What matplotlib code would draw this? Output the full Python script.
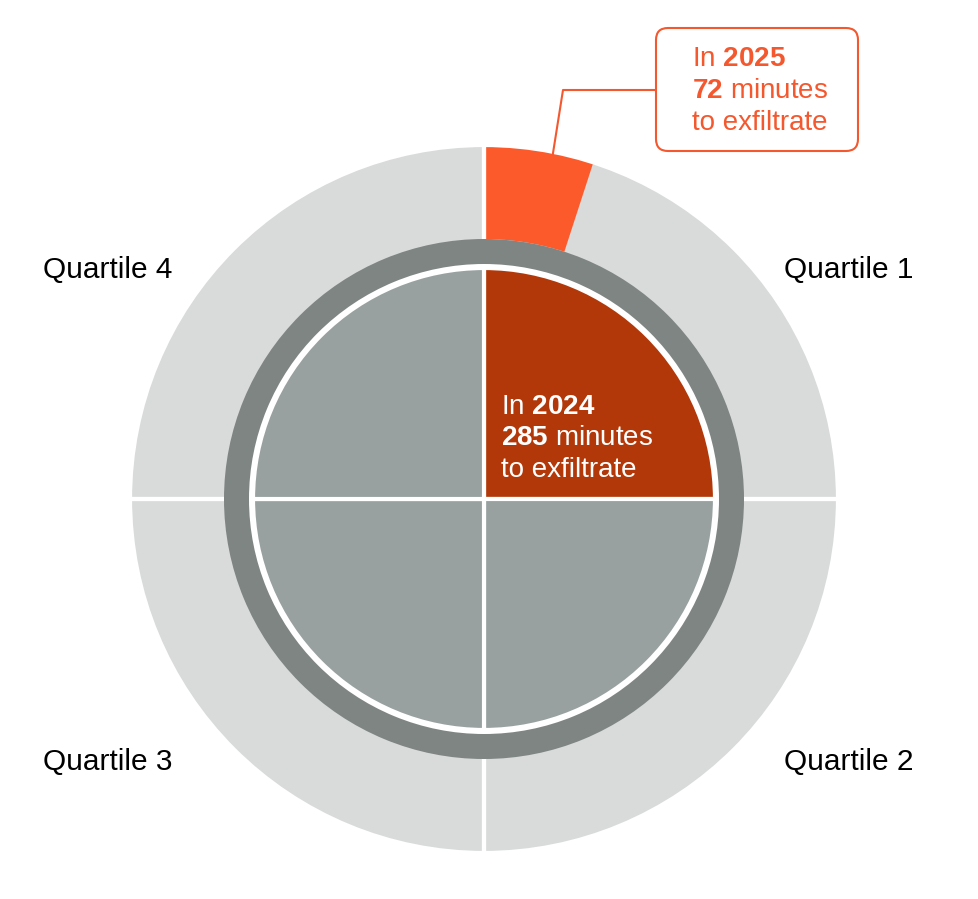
import matplotlib.pyplot as plt
from matplotlib.patches import FancyBboxPatch
import numpy as np

plt.rcParams['font.family'] = ['Liberation Sans', 'DejaVu Sans']
plt.rcParams['mathtext.fontset'] = 'custom'
plt.rcParams['mathtext.rm'] = 'Liberation Sans'
plt.rcParams['mathtext.bf'] = 'Liberation Sans:bold'

# data
quartiles = ["Quartile 1", "Quartile 2", "Quartile 3", "Quartile 4"]
minutes_per_day = 1440
quartile_minutes = [360, 360, 360, 360]
minutes_2024 = 285
minutes_2025 = 72
highlight_2024 = [1, 0, 0, 0]

# colours
light = "#d9dbda"
dark_ring = "#7e8583"
inner_gray = "#98a0a0"
rust = "#b2380a"
orange = "#fd5a2c"
text_orange = "#f4582e"

R_OUT, R_RING, R_RING_IN, R_PIE = 353, 260, 235, 230

fig = plt.figure(figsize=(9.79, 8.99), dpi=100)
ax = fig.add_axes([0, 0, 1, 1])

# outer light ring
ax.pie(quartile_minutes, radius=R_OUT, startangle=90, counterclock=False,
       colors=[light] * 4, wedgeprops=dict(width=R_OUT - R_RING_IN, linewidth=0))
# 2025 wedge
ax.pie([minutes_2025, minutes_per_day - minutes_2025], radius=R_OUT, startangle=90,
       counterclock=False, colors=[orange, 'none'],
       wedgeprops=dict(width=R_OUT - R_RING, linewidth=0))
# white quartile separators on the outer ring
ax.pie(quartile_minutes, radius=R_OUT + 1, startangle=90, counterclock=False,
       colors=['none'] * 4,
       wedgeprops=dict(width=R_OUT + 1 - R_RING_IN, linewidth=3, edgecolor='white'))
# dark ring
ax.pie([1], radius=R_RING, colors=[dark_ring],
       wedgeprops=dict(width=R_RING - R_RING_IN, linewidth=0))
# inner pie (2024)
ax.pie(quartile_minutes, radius=R_PIE + 1, startangle=90, counterclock=False,
       colors=[rust if h else inner_gray for h in highlight_2024],
       wedgeprops=dict(linewidth=3, edgecolor='white'))

ax.set_xlim(-484, 979 - 484)
ax.set_ylim(499 - 899, 499)
ax.set_aspect('equal')
ax.axis('off')

fs = 20
qfs = 21.5
# quartile labels
ax.text(300, 229, quartiles[0], fontsize=qfs, va='center', ha='left', color='black')
ax.text(300, -263, quartiles[1], fontsize=qfs, va='center', ha='left', color='black')
ax.text(-441, -263, quartiles[2], fontsize=qfs, va='center', ha='left', color='black')
ax.text(-441, 229, quartiles[3], fontsize=qfs, va='center', ha='left', color='black')

# 2024 label
lines_2024 = ["In $\\mathbf{%d}$" % 2024, "$\\mathbf{%d}$ minutes" % minutes_2024, "to exfiltrate"]
for i, s in enumerate(lines_2024):
    ax.text(17, 92 - i * 31.5, s, fontsize=fs, color='white', va='center', ha='left')

# 2025 callout
box = FancyBboxPatch((172 + 12, 348 + 12), 202 - 24, 123 - 24,
                     boxstyle="round,pad=12", facecolor='white',
                     edgecolor=text_orange, linewidth=1.5)
ax.add_patch(box)
lines_2025 = ["In $\\mathbf{%d}$" % 2025, "$\\mathbf{%d}$ minutes" % minutes_2025, "to exfiltrate"]
for i, s in enumerate(lines_2025):
    ax.text(208, 440 - i * 32, s, fontsize=fs, color=text_orange, va='center', ha='left')

ang = np.deg2rad(90 - 11.3)
px, py = 350 * np.cos(ang), 350 * np.sin(ang)
ax.plot([px, 79, 172], [py, 409, 409], color=text_orange, linewidth=1.5,
        solid_capstyle='butt')

fig.savefig("out.png", dpi=100)
